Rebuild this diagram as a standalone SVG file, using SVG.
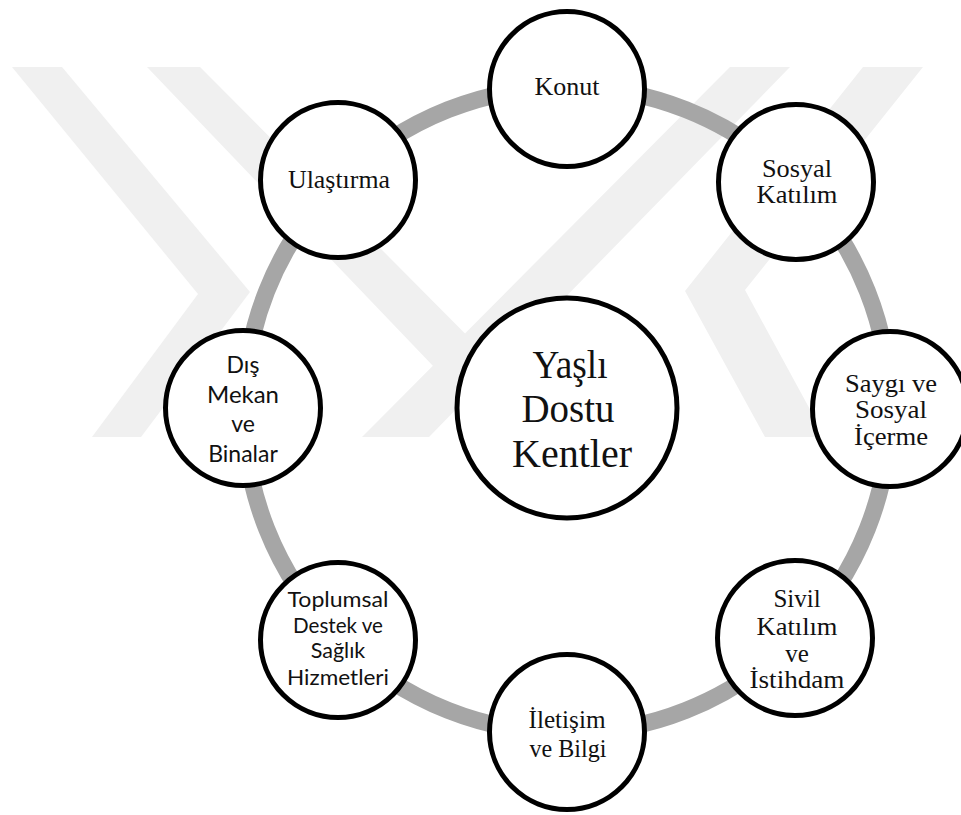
<svg xmlns="http://www.w3.org/2000/svg" width="961" height="815" viewBox="0 0 961 815">
<style>
.node{fill:#ffffff;stroke:#000000;stroke-width:5}
.wm{fill:#f0f0f0}
.ser{font-family:"Liberation Serif","Times New Roman",serif;font-size:25px;fill:#111;text-anchor:middle}
.san{font-family:Lato,"Noto Sans",sans-serif;font-size:23px;fill:#111;text-anchor:middle}
.san2{font-family:Lato,"Noto Sans",sans-serif;font-size:21.5px;fill:#111;text-anchor:middle}
.big{font-family:"Liberation Serif","Times New Roman",serif;font-size:41px;fill:#111;text-anchor:middle}
</style>
<rect width="961" height="815" fill="#ffffff"/>
<g id="watermark">
<polygon class="wm" points="12,67 62,67 250,292 141,437 92,437 198,294"/>
<polygon class="wm" points="147,67 200,67 568,437 501,437"/>
<polygon class="wm" points="362,437 429,437 790,67 730,67"/>
<polygon class="wm" points="923,67 863,67 685,291 765,437 825,437 745,290"/>
</g>
<g id="connectors">
<circle cx="567" cy="410" r="323" fill="none" stroke="#a6a6a6" stroke-width="17"/>
</g>
<g id="center">
<circle class="node" cx="567" cy="408" r="110"/>
<text class="big" x="570" y="378" textLength="75" lengthAdjust="spacingAndGlyphs">Yaşlı</text>
<text class="big" x="568" y="422" textLength="93" lengthAdjust="spacingAndGlyphs">Dostu</text>
<text class="big" x="572" y="467" textLength="120" lengthAdjust="spacingAndGlyphs">Kentler</text>
</g>
<g id="konut">
<circle class="node" cx="567" cy="89" r="77.5"/>
<text class="ser" x="567" y="95" textLength="65" lengthAdjust="spacingAndGlyphs">Konut</text>
</g>
<g id="sosyal-katilim">
<circle class="node" cx="796" cy="182" r="77.5"/>
<text class="ser" x="797" y="177" textLength="70" lengthAdjust="spacingAndGlyphs">Sosyal</text>
<text class="ser" x="797" y="203" textLength="81" lengthAdjust="spacingAndGlyphs">Katılım</text>
</g>
<g id="saygi">
<circle class="node" cx="890" cy="409" r="77.5"/>
<text class="ser" x="891" y="392" textLength="92" lengthAdjust="spacingAndGlyphs">Saygı ve</text>
<text class="ser" x="891" y="418" textLength="72" lengthAdjust="spacingAndGlyphs">Sosyal</text>
<text class="ser" x="891" y="445" textLength="74" lengthAdjust="spacingAndGlyphs">İçerme</text>
</g>
<g id="sivil">
<circle class="node" cx="795" cy="638" r="77.5"/>
<text class="ser" x="797" y="607">Sivil</text>
<text class="ser" x="797" y="635" textLength="81" lengthAdjust="spacingAndGlyphs">Katılım</text>
<text class="ser" x="797" y="662">ve</text>
<text class="ser" x="797" y="688" textLength="95" lengthAdjust="spacingAndGlyphs">İstihdam</text>
</g>
<g id="iletisim">
<circle class="node" cx="567" cy="732" r="77.5"/>
<text class="ser" x="567" y="728" textLength="77" lengthAdjust="spacingAndGlyphs">İletişim</text>
<text class="ser" x="568" y="757" textLength="77" lengthAdjust="spacingAndGlyphs">ve Bilgi</text>
</g>
<g id="toplumsal">
<circle class="node" cx="338" cy="640" r="77.5"/>
<text class="san2" x="338" y="607" textLength="101" lengthAdjust="spacingAndGlyphs">Toplumsal</text>
<text class="san2" x="338" y="633" textLength="90" lengthAdjust="spacingAndGlyphs">Destek ve</text>
<text class="san2" x="338" y="658">Sağlık</text>
<text class="san2" x="338" y="685" textLength="102" lengthAdjust="spacingAndGlyphs">Hizmetleri</text>
</g>
<g id="dis-mekan">
<circle class="node" cx="243" cy="408" r="77.5"/>
<text class="san" x="243" y="373">Dış</text>
<text class="san" x="243" y="403" textLength="72" lengthAdjust="spacingAndGlyphs">Mekan</text>
<text class="san" x="243" y="432">ve</text>
<text class="san" x="243" y="462">Binalar</text>
</g>
<g id="ulastirma">
<circle class="node" cx="338" cy="180" r="77.5"/>
<text class="ser" x="339" y="188" textLength="102" lengthAdjust="spacingAndGlyphs">Ulaştırma</text>
</g>
</svg>
